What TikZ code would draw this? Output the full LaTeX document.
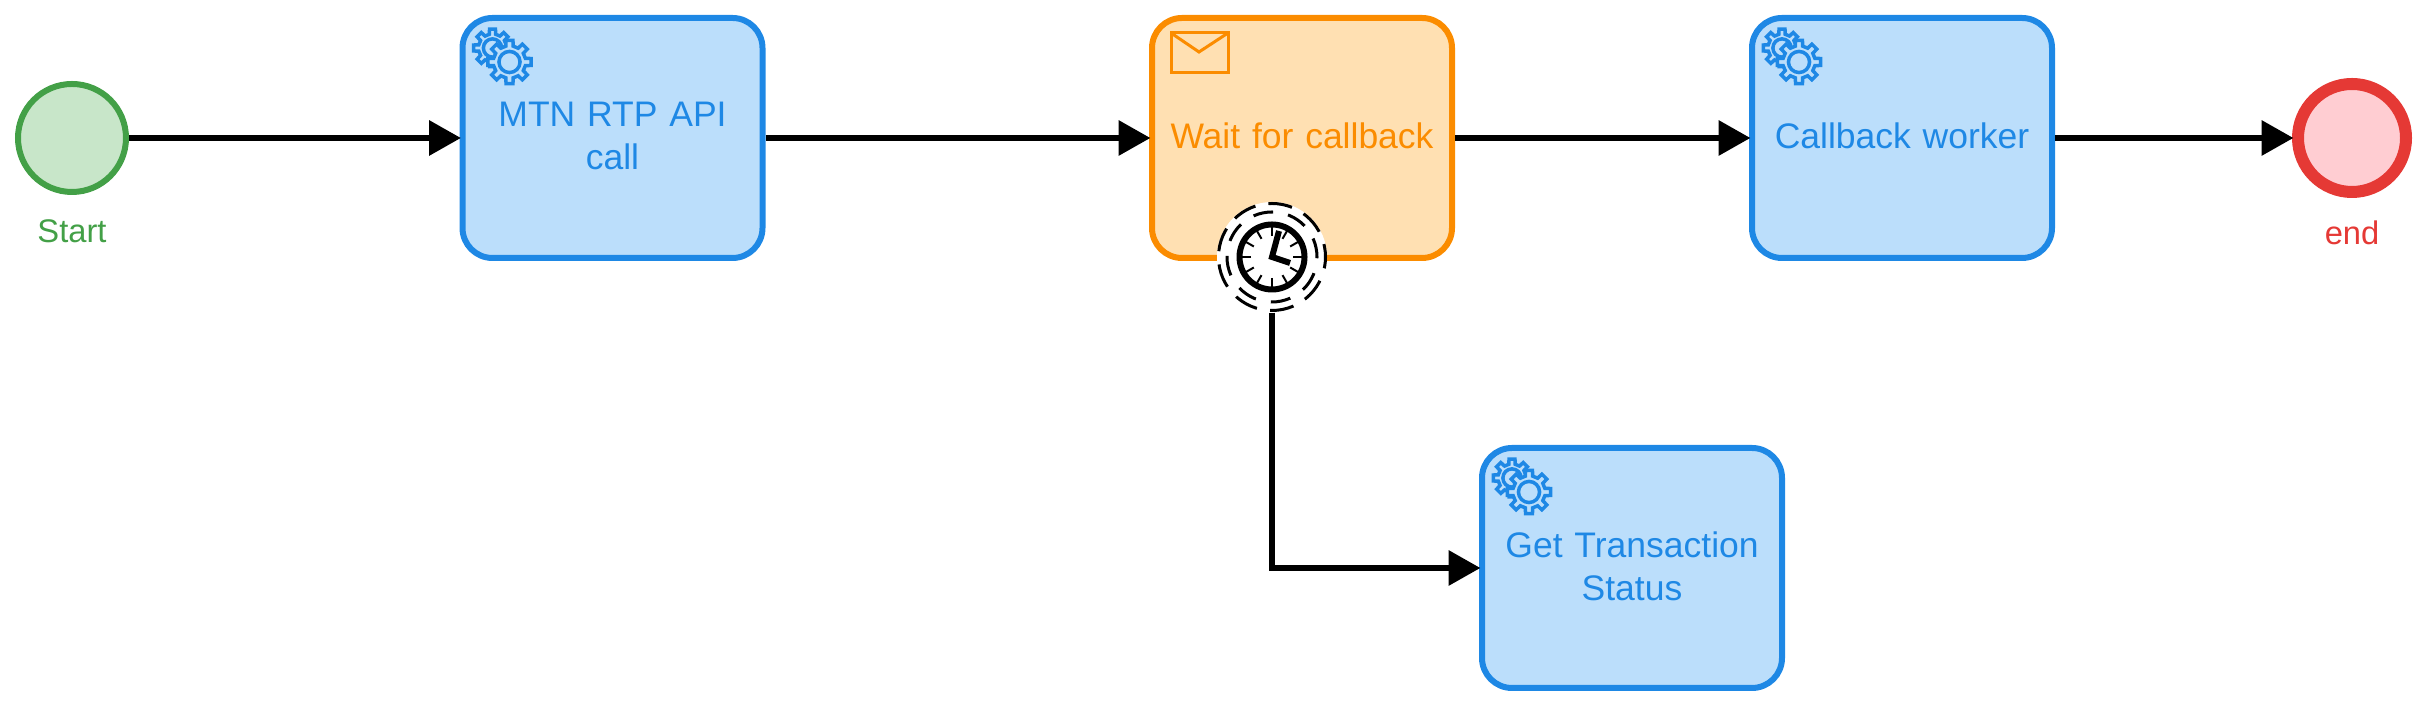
\documentclass[tikz,border=0pt]{standalone}
\usepackage{fontspec}
\setmainfont[WordSpace=0.85]{Liberation Sans}
\usepackage{xcolor}
\usetikzlibrary{positioning,arrows.meta}
\definecolor{taskBlue}{HTML}{1E88E5}
\definecolor{taskBlueFill}{HTML}{BBDEFB}
\definecolor{waitOrange}{HTML}{FB8C00}
\definecolor{waitOrangeFill}{HTML}{FFE0B2}
\definecolor{startGreen}{HTML}{43A047}
\definecolor{startGreenFill}{HTML}{C8E6C9}
\definecolor{endRed}{HTML}{E53935}
\definecolor{endRedFill}{HTML}{FFCDD2}
\tikzset{
    labeltext/.style={font=\fontsize{10.1}{12.3}\selectfont},
    eventtext/.style={font=\fontsize{9.3}{11}\selectfont},
    task/.style={rectangle, rounded corners=0.3cm, line width=0.06cm, minimum width=3cm,
        minimum height=2.4cm, text width=2.7cm, align=center, labeltext,
        execute at end node={\par\vspace{1pt}}},
    bluetask/.style={task, draw=taskBlue, fill=taskBlueFill, text=taskBlue},
    orangetask/.style={task, draw=waitOrange, fill=waitOrangeFill, text=waitOrange},
    event/.style={circle, inner sep=0pt, minimum size=1.08cm},
    flow/.style={line width=0.065cm, shorten >=-0.015cm, -{Triangle[length=0.32cm,width=0.34cm]}},
    gear/.pic={
        \draw[taskBlue, line width=0.035cm, fill=taskBlueFill, line join=miter]
            (-13:#1*0.74) \foreach \a in {0,45,...,315} {
                -- (\a-13:#1*0.74) -- (\a-9:#1) -- (\a+9:#1) -- (\a+13:#1*0.74) -- (\a+32:#1*0.74)
            } -- cycle;
        \draw[taskBlue, line width=0.035cm] (0,0) circle (#1*0.48);
    },
    gears/.pic={
        \pic at (0.33,-0.33) {gear=0.19};
        \pic at (0.50,-0.47) {gear=0.22};
    }
}
\begin{document}
\begin{tikzpicture}
    \useasboundingbox (0,0) rectangle (24.24,7.05);
    % events
    \node[event, draw=startGreen, fill=startGreenFill, line width=0.06cm] (start) at (0.72,5.67) {};
    \node[event, draw=endRed, fill=endRedFill, line width=0.12cm] (finish) at (23.52,5.67) {};
    \node[eventtext, text=startGreen, below=0.12cm of start] (startlabel) {Start};
    \node[eventtext, text=endRed, below=0.1cm of finish] (finishlabel) {end};
    % tasks
    \node[bluetask] (rtpcall) at (6.125,5.67) {MTN RTP API\\call};
    \node[orangetask] (waitcallback) at (13.02,5.67) {Wait for callback};
    \node[bluetask] (worker) at (19.02,5.67) {Callback worker};
    \node[bluetask] (txstatus) at (16.32,1.37) {Get Transaction\\Status};
    % task icons
    \pic at (rtpcall.north west) {gears};
    \pic at (worker.north west) {gears};
    \pic at (txstatus.north west) {gears};
    \draw[waitOrange, line width=0.03cm] (11.71,6.72) rectangle (12.28,6.32);
    \draw[waitOrange, line width=0.03cm] (11.71,6.72) -- (11.99,6.53) -- (12.28,6.72);
    % timer
    \node[circle, fill=white, inner sep=0pt, minimum size=1.1cm] (timer) at (12.72,4.48) {};
    \draw[line width=0.03cm, dash pattern=on 0.24cm off 0.133cm, dash phase=0.11cm] (timer.center) circle (0.535cm);
    \draw[line width=0.03cm, dash pattern=on 0.2cm off 0.153cm, dash phase=0.01cm] (timer.center) circle (0.45cm);
    \draw[line width=0.06cm] (timer.center) circle (0.325cm);
    \foreach \a in {0,30,...,330}
        \draw[line width=0.02cm] ([shift={(\a:0.21)}]timer.center) -- ([shift={(\a:0.32)}]timer.center);
    \draw[line width=0.06cm] ([shift={(0.07,0.26)}]timer.center) -- (timer.center) -- ([shift={(0.18,-0.06)}]timer.center);
    % flows
    \draw[flow] (start) -- (rtpcall);
    \draw[flow] (rtpcall) -- (waitcallback);
    \draw[flow] (waitcallback) -- (worker);
    \draw[flow] (worker) -- (finish);
    \draw[flow] (timer) |- (txstatus);
\end{tikzpicture}
\end{document}
